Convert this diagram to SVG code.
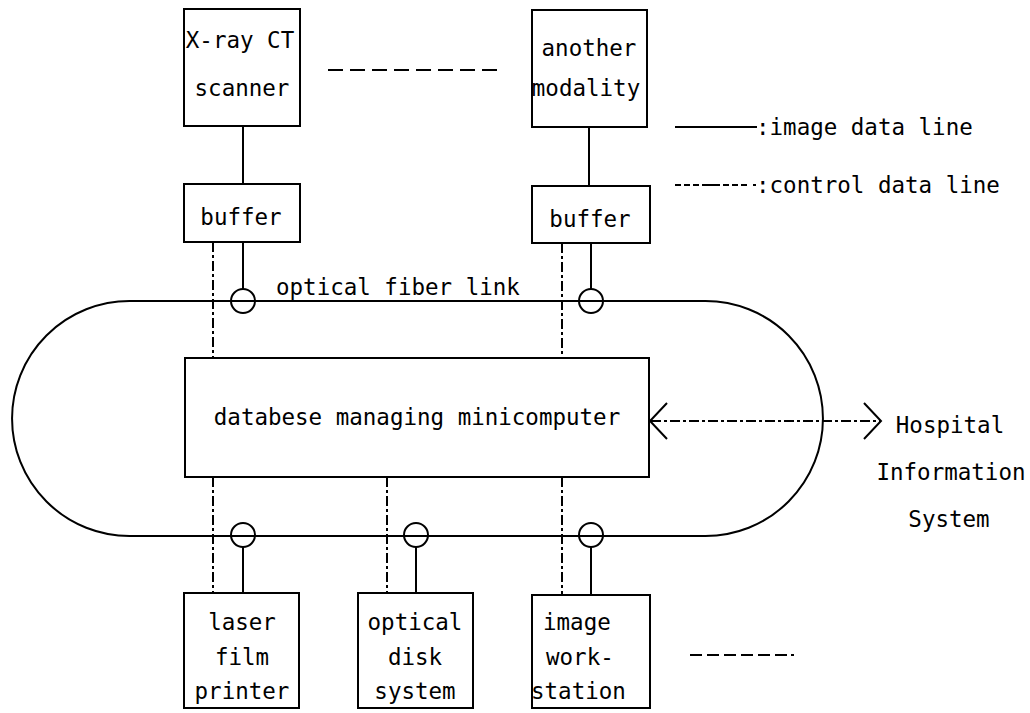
<svg xmlns="http://www.w3.org/2000/svg" width="1030" height="713" viewBox="0 0 1030 713">
<style>
text{font-family:"DejaVu Sans Mono","Liberation Mono",monospace;font-size:22.5px;fill:#000}
.box{fill:#fff;stroke:#000;stroke-width:2}
.img{stroke:#000;stroke-width:2;fill:none}
.ctrl{stroke:#000;stroke-width:2;fill:none;stroke-dasharray:10 3 3 3}
.dash{stroke:#000;stroke-width:2;fill:none;stroke-dasharray:15 7}
.tap{fill:none;stroke:#000;stroke-width:2}
.m{text-anchor:middle}
</style>
<rect width="1030" height="713" fill="#fff"/>
<g id="connectors">
<path id="ring" class="img" d="M129.5 301 H705.5 A117.5 117.5 0 0 1 705.5 536 H129.5 A117.5 117.5 0 0 1 129.5 301 Z"/>
<line class="img" x1="243" y1="126" x2="243" y2="184"/>
<line class="img" x1="589" y1="127" x2="589" y2="186"/>
<line class="img" x1="243" y1="242" x2="243" y2="289"/>
<line class="img" x1="591" y1="243" x2="591" y2="290"/>
<line class="img" x1="243" y1="547" x2="243" y2="593"/>
<line class="img" x1="416" y1="547" x2="416" y2="593"/>
<line class="img" x1="591" y1="547" x2="591" y2="595"/>
<line class="ctrl" x1="213" y1="242" x2="213" y2="358"/>
<line class="ctrl" x1="562" y1="243" x2="562" y2="358"/>
<line class="ctrl" x1="213" y1="477" x2="213" y2="593"/>
<line class="ctrl" x1="387" y1="477" x2="387" y2="593"/>
<line class="ctrl" x1="562" y1="477" x2="562" y2="595"/>
<line class="ctrl" x1="651" y1="421" x2="880" y2="421"/>
<polyline class="img" points="667,403 650,421 667,439"/>
<polyline class="img" points="864,403 881,421 864,439"/>
<line class="dash" x1="328" y1="70" x2="503" y2="70"/>
<line class="img" x1="690" y1="655" x2="787" y2="655" style="stroke-dasharray:12 5"/>
<line class="img" x1="791" y1="655" x2="794" y2="655"/>
<circle class="tap" cx="243" cy="301" r="12"/>
<circle class="tap" cx="591" cy="301" r="12"/>
<circle class="tap" cx="243" cy="535" r="12"/>
<circle class="tap" cx="416" cy="535" r="12"/>
<circle class="tap" cx="591" cy="535" r="12"/>
</g>
<g id="xray"><rect class="box" x="184" y="9" width="116" height="117"/><text class="m" x="240" y="48">X-ray CT</text><text class="m" x="242" y="96">scanner</text></g>
<g id="another"><rect class="box" x="532" y="10" width="115" height="117"/><text class="m" x="589" y="56">another</text><text class="m" x="586" y="96">modality</text></g>
<g id="buffer1"><rect class="box" x="184" y="184" width="116" height="58"/><text class="m" x="241" y="225">buffer</text></g>
<g id="buffer2"><rect class="box" x="532" y="186" width="118" height="57"/><text class="m" x="590" y="227">buffer</text></g>
<g id="fiber-label"><text x="276" y="295">optical fiber link</text></g>
<g id="minicomputer"><rect class="box" x="185" y="358" width="464" height="119"/><text class="m" x="417" y="425">databese managing minicomputer</text></g>
<g id="his"><text class="m" x="950" y="433">Hospital</text><text class="m" x="951" y="480">Information</text><text class="m" x="949" y="527">System</text></g>
<g id="laser"><rect class="box" x="184" y="593" width="115" height="115"/><text class="m" x="242" y="630">laser</text><text class="m" x="242" y="665">film</text><text class="m" x="242" y="699">printer</text></g>
<g id="optical-disk"><rect class="box" x="358" y="593" width="115" height="115"/><text class="m" x="415" y="630">optical</text><text class="m" x="415" y="665">disk</text><text class="m" x="415" y="699">system</text></g>
<g id="workstation"><rect class="box" x="532" y="595" width="118" height="113"/><text x="543" y="630">image</text><text x="546" y="665">work-</text><text x="531" y="699">station</text></g>
<g id="legend">
<line class="img" x1="675" y1="127" x2="757" y2="127"/>
<text x="756" y="135">:image data line</text>
<line class="img" x1="675" y1="185" x2="757" y2="185" style="stroke-dasharray:6 3 6 3 6 3 18 3 6 3 6 3 6"/>
<text x="756" y="193">:control data line</text>
</g>
</svg>
